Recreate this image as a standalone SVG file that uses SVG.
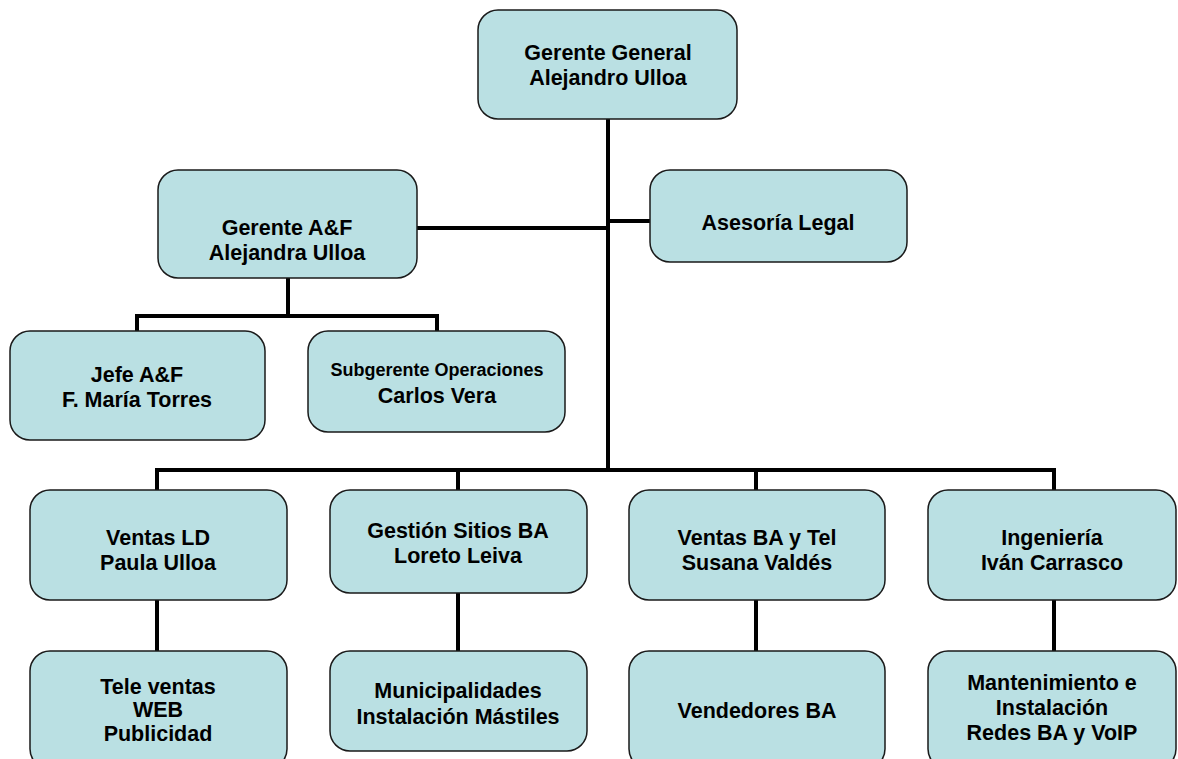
<svg xmlns="http://www.w3.org/2000/svg" width="1178" height="759" viewBox="0 0 1178 759">
<style>
.box{fill:#bae0e3;stroke:#1a1a1a;stroke-width:1.5}
.t{font-family:"Liberation Sans",Arial,sans-serif;font-weight:bold;font-size:21.5px;fill:#000;text-anchor:middle}
.s{font-size:18px}
.c{stroke:#000;stroke-width:4;fill:none}
</style>
<rect width="1178" height="759" fill="#fff"/>
<g id="connectors">
<path class="c" d="M608,119 V472"/>
<path class="c" d="M417,228 H608"/>
<path class="c" d="M608,221 H650"/>
<path class="c" d="M288,278 V316 M137,316 H437 M137,314 V331 M437,314 V331"/>
<path class="c" d="M157,470 H1054 M157,468 V490 M458,468 V490 M756,468 V490 M1054,468 V490"/>
<path class="c" d="M157,600 V651 M458,593 V651 M756,600 V651 M1054,600 V651"/>
</g>
<g id="gerente-general"><rect class="box" x="478" y="10" width="259" height="109" rx="20"/><text class="t" x="608" y="60">Gerente General</text><text class="t" x="608" y="85">Alejandro Ulloa</text></g>
<g id="gerente-af"><rect class="box" x="158" y="170" width="259" height="108" rx="20"/><text class="t" x="287" y="235">Gerente A&amp;F</text><text class="t" x="287" y="260">Alejandra Ulloa</text></g>
<g id="asesoria"><rect class="box" x="650" y="170" width="257" height="92" rx="20"/><text class="t" x="778" y="230">Asesoría Legal</text></g>
<g id="jefe-af"><rect class="box" x="10" y="331" width="255" height="109" rx="20"/><text class="t" x="137" y="382">Jefe A&amp;F</text><text class="t" x="137" y="407">F. María Torres</text></g>
<g id="subgerente"><rect class="box" x="308" y="331" width="257" height="101" rx="20"/><text class="t s" x="437" y="376">Subgerente Operaciones</text><text class="t" x="437" y="403">Carlos Vera</text></g>
<g id="ventas-ld"><rect class="box" x="30" y="490" width="257" height="110" rx="20"/><text class="t" x="158" y="545">Ventas LD</text><text class="t" x="158" y="570">Paula Ulloa</text></g>
<g id="gestion-sitios"><rect class="box" x="330" y="490" width="257" height="103" rx="20"/><text class="t" x="458" y="538">Gestión Sitios BA</text><text class="t" x="458" y="563">Loreto Leiva</text></g>
<g id="ventas-ba"><rect class="box" x="629" y="490" width="256" height="110" rx="20"/><text class="t" x="757" y="545">Ventas BA y Tel</text><text class="t" x="757" y="570">Susana Valdés</text></g>
<g id="ingenieria"><rect class="box" x="928" y="490" width="248" height="110" rx="20"/><text class="t" x="1052" y="545">Ingeniería</text><text class="t" x="1052" y="570">Iván Carrasco</text></g>
<g id="tele-ventas"><rect class="box" x="30" y="651" width="257" height="118" rx="20"/><text class="t" x="158" y="694">Tele ventas</text><text class="t" x="158" y="717">WEB</text><text class="t" x="158" y="741">Publicidad</text></g>
<g id="municipalidades"><rect class="box" x="330" y="651" width="257" height="100" rx="20"/><text class="t" x="458" y="698">Municipalidades</text><text class="t" x="458" y="724">Instalación Mástiles</text></g>
<g id="vendedores"><rect class="box" x="629" y="651" width="256" height="118" rx="20"/><text class="t" x="757" y="718">Vendedores BA</text></g>
<g id="mantenimiento"><rect class="box" x="928" y="651" width="248" height="118" rx="20"/><text class="t" x="1052" y="690">Mantenimiento e</text><text class="t" x="1052" y="715">Instalación</text><text class="t" x="1052" y="740">Redes BA y VoIP</text></g>
</svg>
